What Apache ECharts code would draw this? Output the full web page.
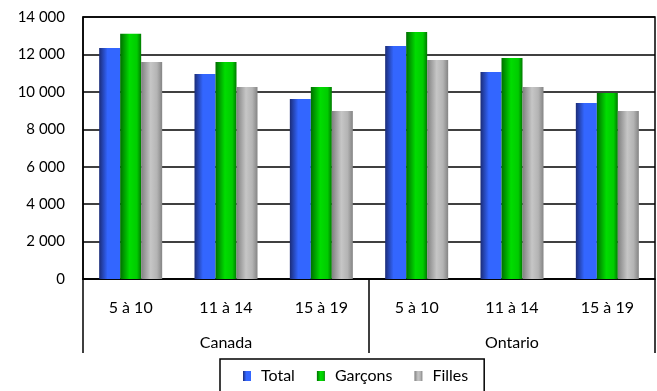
<!DOCTYPE html>
<html>
<head>
<meta charset="utf-8">
<script src="https://cdn.jsdelivr.net/npm/echarts@6/dist/echarts.min.js"></script>
<style>
html, body { margin: 0; padding: 0; background: #fff; }
#chart { width: 657px; height: 391px; }
</style>
</head>
<body>
<div id="chart"></div>
<script>
var ageGroups = ["5 à 10", "11 à 14", "15 à 19", "5 à 10", "11 à 14", "15 à 19"];
var regions = ["Canada", "Ontario"];
var total = [12350, 10950, 9620, 12450, 11060, 9410];
var garcons = [13100, 11600, 10260, 13200, 11810, 9940];
var filles = [11600, 10260, 8980, 11700, 10260, 8980];
var yTicks = { min: 0, max: 14000, interval: 2000 };

var font = "Lato, 'Noto Sans', sans-serif";

function grad(stops) {
    return new echarts.graphic.LinearGradient(0, 0, 1, 0, stops);
}

var blue = grad([
    { offset: 0, color: "#1b2c78" },
    { offset: 0.4, color: "#3366ff" },
    { offset: 1, color: "#3366ff" }
]);
var green = grad([
    { offset: 0, color: "#006f00" },
    { offset: 0.45, color: "#00dd00" },
    { offset: 0.8, color: "#00cc00" },
    { offset: 1, color: "#007a00" }
]);
var gray = grad([
    { offset: 0, color: "#808080" },
    { offset: 0.45, color: "#c6c6c6" },
    { offset: 0.75, color: "#b4b4b4" },
    { offset: 1, color: "#848484" }
]);

var chart = echarts.init(document.getElementById("chart"));

var option = {
    animation: false,
    textStyle: { fontFamily: font },
    grid: {
        left: 83, right: 2, top: 17, bottom: 112,
        show: true, borderColor: "#000", borderWidth: 1.5
    },
    legend: {
        left: 220, top: 359,
        padding: [9, 16, 10, 23],
        borderColor: "#000", borderWidth: 1.5,
        icon: "rect",
        itemWidth: 8, itemHeight: 10, itemGap: 22,
        textStyle: { fontSize: 16, color: "#000", fontFamily: font, padding: [0, 0, 0, 5] },
        data: ["Total", "Garçons", "Filles"]
    },
    xAxis: [{
        type: "category",
        data: ageGroups,
        axisLine: { lineStyle: { color: "#000", width: 1.5 } },
        axisTick: { show: false },
        axisLabel: { color: "#000", fontSize: 16, margin: 21, interval: 0 }
    }, {
        type: "category",
        data: regions,
        position: "bottom",
        axisLine: { show: false },
        axisTick: { show: true, length: 74, lineStyle: { color: "#000", width: 1.5 } },
        axisLabel: { color: "#000", fontSize: 16, margin: 56 }
    }],
    yAxis: {
        type: "value",
        min: yTicks.min, max: yTicks.max, interval: yTicks.interval,
        axisLine: { show: true, lineStyle: { color: "#000", width: 1.5 } },
        axisTick: { show: false },
        splitLine: { lineStyle: { color: "#000", width: 1.5 } },
        axisLabel: {
            color: "#000", fontSize: 15, margin: 18,
            formatter: function (v) {
                return String(v).replace(/\B(?=(\d{3})+(?!\d))/g, " ");
            }
        }
    },
    series: [{
        name: "Total", type: "bar", data: total,
        barWidth: 21, barGap: "0%",
        itemStyle: { color: blue }
    }, {
        name: "Garçons", type: "bar", data: garcons,
        barWidth: 21, barGap: "0%",
        itemStyle: { color: green }
    }, {
        name: "Filles", type: "bar", data: filles,
        barWidth: 21, barGap: "0%",
        itemStyle: { color: gray }
    }]
};

chart.setOption(option);
</script>
</body>
</html>
